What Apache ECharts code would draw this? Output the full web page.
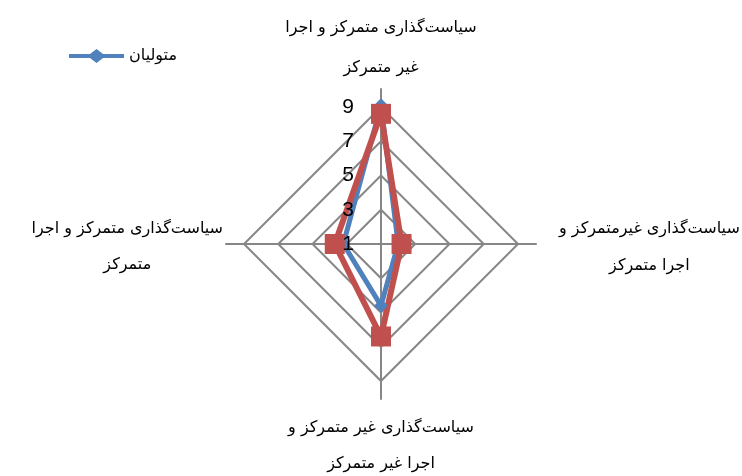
<!DOCTYPE html>
<html>
<head>
<meta charset="utf-8">
<script src="https://cdn.jsdelivr.net/npm/echarts@6/dist/echarts.min.js"></script>
<style>
    html, body { margin: 0; padding: 0; background: #fff; }
    #charts { width: 742px; height: 476px; }
</style>
</head>
<body>
<div id="charts"></div>
<script>
// محورها (ترتیب: بالا، چپ، پایین، راست)
var arrCate = [
    'سیاست‌گذاری متمرکز و اجرا\nغیر متمرکز',
    'سیاست‌گذاری متمرکز و اجرا\nمتمرکز',
    'سیاست‌گذاری غیر متمرکز و\nاجرا غیر متمرکز',
    'سیاست‌گذاری غیرمتمرکز و\nاجرا متمرکز'
];
var seriesNames = ['متولیان', 'سری ۲'];
var arrBlue = [9.1, 3.2, 4.6, 2.0];
var arrRed = [8.6, 3.7, 6.4, 2.2];
var tickMin = 1;
var tickMax = 9;
var tickStep = 2;

window.onload = function(){
    var chart = echarts.init(document.getElementById('charts'));

    var inner = [];
    var outer = [];
    var labels = [];
    for(var i = 0; i < arrCate.length; i++){
        inner.push({ name: arrCate[i], min: tickMin, max: tickMax });
        outer.push({ name: arrCate[i], min: tickMin, max: tickMax });
        labels.push({ name: arrCate[i], min: tickMin, max: tickMax });
    }
    // اعداد فقط روی محور بالا
    labels[0].axisLabel = { show: true };

    // فاصله هر عنوان از سر محور
    var styleKey = ['t', 'l', 'b', 'r'];
    var nameFormatter = function(name){
        var k = styleKey[arrCate.indexOf(name)];
        var lines = name.split('\n');
        return '{' + k + '1|' + lines[0] + '}\n{' + k + '|' + lines[1] + '}';
    };
    var base = { align: 'center', fontFamily: 'DejaVu Sans', fontSize: 16, lineHeight: 37, color: '#000' };
    var mk = function(pad){
        var o = {};
        for(var key in base){ o[key] = base[key]; }
        o.padding = pad;
        return o;
    };

    var option = {
        backgroundColor: '#fff',
        animation: false,
        legend: {
            data: [{ name: seriesNames[0], icon: 'path://M0,5L21,5L27.5,0L34,5L55,5L55,9L34,9L27.5,14L21,9L0,9Z' }],
            left: 64,
            top: 43,
            itemWidth: 55,
            itemHeight: 14,
            itemGap: 5,
            textStyle: { fontFamily: 'DejaVu Sans', fontSize: 16, color: '#000' }
        },
        radar: [{
            center: [381, 244],
            radius: 137,
            splitNumber: (tickMax - tickMin) / tickStep,
            indicator: inner,
            axisName: { show: false },
            axisLine: { show: false },
            axisTick: { show: false },
            axisLabel: { show: false },
            splitLine: { lineStyle: { color: '#868686', width: 2 } },
            splitArea: { show: false }
        }, {
            center: [381, 244],
            radius: 155,
            splitNumber: 1,
            indicator: outer,
            nameGap: 3,
            axisName: {
                formatter: nameFormatter,
                rich: {
                    t1: mk([0, 0, 6, 0]), t: mk([0, 0, 0, 0]),
                    l1: mk([7, 0, 0, 0]), l: mk([4, 0, 0, 0]),
                    b1: mk([14, 0, 0, 0]), b: mk([12, 0, 0, 0]),
                    r1: mk([7, 0, 0, 20]), r: mk([6, 0, 0, 20])
                }
            },
            axisLine: { lineStyle: { color: '#868686', width: 2 } },
            axisTick: { show: false },
            splitLine: { show: false },
            splitArea: { show: false }
        }, {
            // اعداد محور روی خطوط سری‌ها
            z: 10,
            center: [381, 244],
            radius: 137,
            splitNumber: (tickMax - tickMin) / tickStep,
            indicator: labels,
            axisName: { show: false },
            axisLine: { show: false },
            axisTick: { show: false },
            axisLabel: {
                show: false,
                color: '#000',
                fontSize: 21,
                fontFamily: 'Liberation Sans',
                margin: 27
            },
            splitLine: { show: false },
            splitArea: { show: false }
        }],
        series: [{
            name: seriesNames[0],
            type: 'radar',
            radarIndex: 0,
            symbol: 'diamond',
            symbolSize: 14,
            itemStyle: { color: '#4F81BD' },
            lineStyle: { color: '#4F81BD', width: 5 },
            data: [{ value: arrBlue, name: seriesNames[0] }]
        }, {
            name: seriesNames[1],
            type: 'radar',
            radarIndex: 0,
            symbol: 'rect',
            symbolSize: 20,
            itemStyle: { color: '#C0504D' },
            lineStyle: { color: '#C0504D', width: 6 },
            data: [{ value: arrRed, name: seriesNames[1] }]
        }]
    };

    chart.setOption(option);
};
</script>
</body>
</html>
